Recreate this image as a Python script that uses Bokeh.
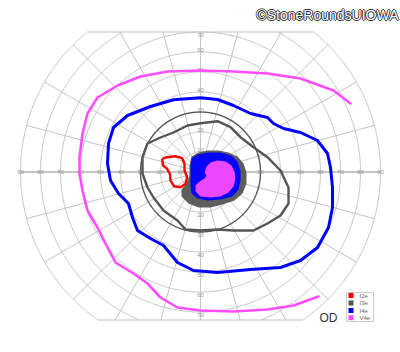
import numpy as np
from bokeh.plotting import figure
from bokeh.models import Range1d
from bokeh.core.properties import value
from bokeh.embed import file_html
from bokeh.resources import INLINE

# ---- data (degrees of visual field; x: left/right, y: up/down) ----
v4e_x = [75, 66.5, 50, 33.5, 16.5, 0, -16.5, -30, -41.5, -51.5, -56.5, -59, -60.5, -60.5,
         -59, -56.5, -51.5, -47.5, -42.5, -33.5, -26.5, -20, -11.5, 0, 16.5, 33.5, 46.5, 59]
v4e_y = [34.25, 40.75, 46.75, 49.25, 50.25, 50.75, 50.25, 47.75, 43.25, 37.25, 29.25, 19.25, 7.25, -0.75,
         -9.25, -19.25, -27.75, -35.75, -45.25, -50.75, -55.75, -62.75, -67.75, -69.25, -69.75, -68.75, -66.75, -62.25]

i4e_x = [0, -13.5, -25, -36.5, -43.5, -46, -46.5, -45, -41, -36, -34, -31.5, -25, -18.5, -11.5, -3.5, 8.5,
         25, 40, 50, 58.5, 64, 66, 66, 65, 63.5, 58.5, 50, 41.5, 36.5, 33.5, 25, 16.5, 8.5]
i4e_y = [37.1, 36.1, 32.75, 28.25, 22.25, 14.25, 4.25, -4.25, -10.75, -15.75, -22.75, -29.25, -33.25, -36.75,
         -45.25, -49.25, -50.25, -48.75, -47.75, -44.25, -37.75, -27.75, -17.75, -7.75, 2.25, 9.25, 15.75,
         19.75, 21.75, 24.25, 27.25, 29.25, 33.25, 36.25]

i3e_x = [0, 8.5, 15, 20, 26.5, 33.5, 40, 44, 44, 40, 33.5, 26.5, 16.5, 8.5, 0, -7.5, -11.5, -18.5, -23.5,
         -26.5, -29, -29, -26.5, -20, -13.5, -6.5]
i3e_y = [24.4, 25.4, 22.4, 17.4, 12.4, 7.4, 0.75, -7.75, -15.75, -21.75, -25.75, -29.25, -29.25, -28.75,
         -29.25, -28.75, -24.25, -19.25, -12.75, -7.75, -0.75, 7.25, 14.25, 17.25, 19.75, 23.25]

i2e_x = [-19.2, -16.7, -12.5, -9.2, -8, -8, -6.7, -7.5, -10, -13.3, -15, -15.3, -16.7, -18.7]
i2e_y = [6.6, 7.4, 7.9, 6.9, 4.1, 0.75, -2.6, -5.9, -7.6, -7.1, -4.25, -0.9, 1.6, 3.25]

# scotomas (filled areas)
sc_i3e_x = [-4.5, -1, 3.5, 9, 14, 18.5, 21.5, 23, 23, 21, 17, 11, 5, -1, -6, -9.5, -9.5, -7, -5.5, -5.5]
sc_i3e_y = [7.75, 9.75, 10.75, 10.75, 9.75, 7.75, 4.25, -0.25, -5.75, -10.75, -14.25, -16.25, -17.75,
            -17.75, -15.75, -12.25, -8.75, -5.75, -1.75, 3.25]
sc_i4e_x = [-4.5, -1.5, 3.5, 10, 15.5, 18.5, 20, 20, 19, 16, 10, 3.5, -1.5, -4.5, -5, -5, -5]
sc_i4e_y = [6.75, 8.75, 9.75, 9.75, 8.25, 5.25, 0.75, -4.25, -8.75, -12.25, -13.75, -14.25, -13.25,
            -10.75, -6.75, -1.75, 2.75]
sc_v4e_x = [2, 3, 5, 8.5, 12.5, 15.5, 17, 17.5, 16.5, 14, 10, 5, 0, -2.5, -2.5, -0.5, 2, 3]
sc_v4e_y = [-0.25, 2.75, 4.75, 5.75, 5.25, 3.25, 0.25, -3.25, -7.25, -10.25, -12.25, -12.75, -12.25,
            -9.75, -6.75, -4.75, -3.25, -1.75]

ring_radii = [10, 20, 30, 40, 50, 60, 70, 80, 90]
meridian_step = 15
top_limit = 70
bottom_limit = -74
h_labels = ["10", "20", "30", "40", "50", "60", "70", "80", "90"]
v_labels_top = ["10", "20", "30", "40", "50", "60", "70"]
v_labels_bottom = ["10", "20", "30", "40", "50", "60", "70"]
legend_labels = ["I2e", "I3e", "I4e", "V4e"]
legend_colors = ["#ff0000", "#555555", "#0000ff", "#ff4dff"]

# ---- figure ----
p = figure(width=400, height=352, output_backend="svg", toolbar_location=None,
           x_range=Range1d(-100, 100), y_range=Range1d(-90.25, 85.75),
           min_border=0, min_border_left=0, min_border_right=0, min_border_top=0, min_border_bottom=0)
p.axis.visible = False
p.grid.visible = False
p.outline_line_color = None
p.background_fill_color = "white"
p.border_fill_color = "white"

# rings (clipped to band)
ring_xs, ring_ys = [], []
for r in ring_radii:
    if r == 30:
        continue
    if r <= top_limit:
        t = np.radians(np.linspace(0, 360, 721))
        ring_xs.append(list(r * np.cos(t)))
        ring_ys.append(list(r * np.sin(t)))
    else:
        a_top = np.degrees(np.arcsin(top_limit / r))
        a_bot = np.degrees(np.arcsin(-bottom_limit / r))
        t = np.radians(np.linspace(-a_bot, a_top, 300))
        ring_xs.append(list(r * np.cos(t)))
        ring_ys.append(list(r * np.sin(t)))
        t = np.radians(np.linspace(180 - a_top, 180 + a_bot, 300))
        ring_xs.append(list(r * np.cos(t)))
        ring_ys.append(list(r * np.sin(t)))
p.multi_line(ring_xs, ring_ys, line_color="#c4c4c4", line_width=1)

# meridians
mer_xs, mer_ys = [], []
rmax = max(ring_radii)
for a in range(0, 360, meridian_step):
    s, c = np.sin(np.radians(a)), np.cos(np.radians(a))
    rend = rmax
    if s > 1e-9:
        rend = min(rend, top_limit / s)
    elif s < -1e-9:
        rend = min(rend, -bottom_limit / -s)
    mer_xs.append([0, rend * c])
    mer_ys.append([0, rend * s])
p.multi_line(mer_xs, mer_ys, line_color="#c4c4c4", line_width=1)
p.line([-rmax, rmax], [0, 0], line_color="#aaaaaa", line_width=1.2)

# top & bottom boundaries
xt = np.sqrt(rmax**2 - top_limit**2)
xb = np.sqrt(rmax**2 - bottom_limit**2)
p.multi_line([[-xt, xt], [-xb, xb]], [[top_limit, top_limit], [bottom_limit, bottom_limit]],
             line_color="#c4c4c4", line_width=1.2)

# 30 degree ring, darker
t = np.radians(np.linspace(0, 360, 721))
p.line(30 * np.cos(t), 30 * np.sin(t), line_color="#555555", line_width=1.4)

# tick labels
hx = [-r for r in ring_radii] + list(ring_radii)
hl = h_labels + h_labels
p.text(x=hx, y=[0] * len(hx), text=hl, text_font=value("Liberation Sans"), text_font_size="6px",
       text_color="#999999", text_align="center", text_baseline="middle")
vy_top = [min(int(l) + 1.25, 68.75) for l in v_labels_top]
vy_bot = [-(int(l) + 1.25) for l in v_labels_bottom]
p.text(x=[0] * (len(vy_top) + len(vy_bot)), y=vy_top + vy_bot, text=v_labels_top + v_labels_bottom,
       text_font=value("Liberation Sans"), text_font_size="6px", text_color="#999999",
       text_align="center", text_baseline="middle")

# scotoma fills
p.patch(sc_i3e_x, sc_i3e_y, fill_color="#555555", line_color=None, fill_alpha=0.95)
p.patch(sc_i4e_x, sc_i4e_y, fill_color="#0000ff", line_color=None, fill_alpha=0.95)
p.patch(sc_v4e_x, sc_v4e_y, fill_color="#ff4dff", line_color=None, fill_alpha=0.92)

# isopters
def closed(a):
    return list(a) + [a[0]]

p.line(v4e_x, v4e_y, line_color="#ff4dff", line_width=2.6, line_join="round", line_cap="round")
p.line(closed(i4e_x), closed(i4e_y), line_color="#0000ff", line_width=3, line_join="round")
p.line(closed(i3e_x), closed(i3e_y), line_color="#555555", line_width=2.4, line_join="round")
p.line(closed(i2e_x), closed(i2e_y), line_color="#ff0000", line_width=2.4, line_join="round")

# legend box
p.quad(left=[73], right=[86.5], bottom=[-74.75], top=[-60.25], fill_color="white",
       line_color="#cccccc", line_width=1)
ly = [-61.75, -65.5, -69.25, -72.9]
p.rect(x=[75.25] * 4, y=ly, width=2.5, height=2.5, fill_color=legend_colors, line_color=None)
p.text(x=[79.5] * 4, y=ly, text=legend_labels, text_font=value("Liberation Sans"), text_font_size="6px",
       text_color="#666666", text_align="left", text_baseline="middle")

# OD
p.text(x=[64], y=[-72.75], text=["OD"], text_font=value("Liberation Sans"), text_font_size="12px",
       text_color="#333333", text_align="center", text_baseline="middle")

# watermark
for dx, dy in [(-1, 0), (1, 0), (0, -1), (0, 1)]:
    p.text(x=[99], y=[78.75], text=["©StoneRoundsUIOWA"], text_font=value("Liberation Sans"),
           text_font_size="14px", text_color="#333333", text_align="right", text_baseline="alphabetic",
           x_offset=dx, y_offset=dy)
p.text(x=[99], y=[78.75], text=["©StoneRoundsUIOWA"], text_font=value("Liberation Sans"),
       text_font_size="14px", text_color="white", text_align="right", text_baseline="alphabetic")

open("out.html", "w").write(file_html(p, INLINE))
